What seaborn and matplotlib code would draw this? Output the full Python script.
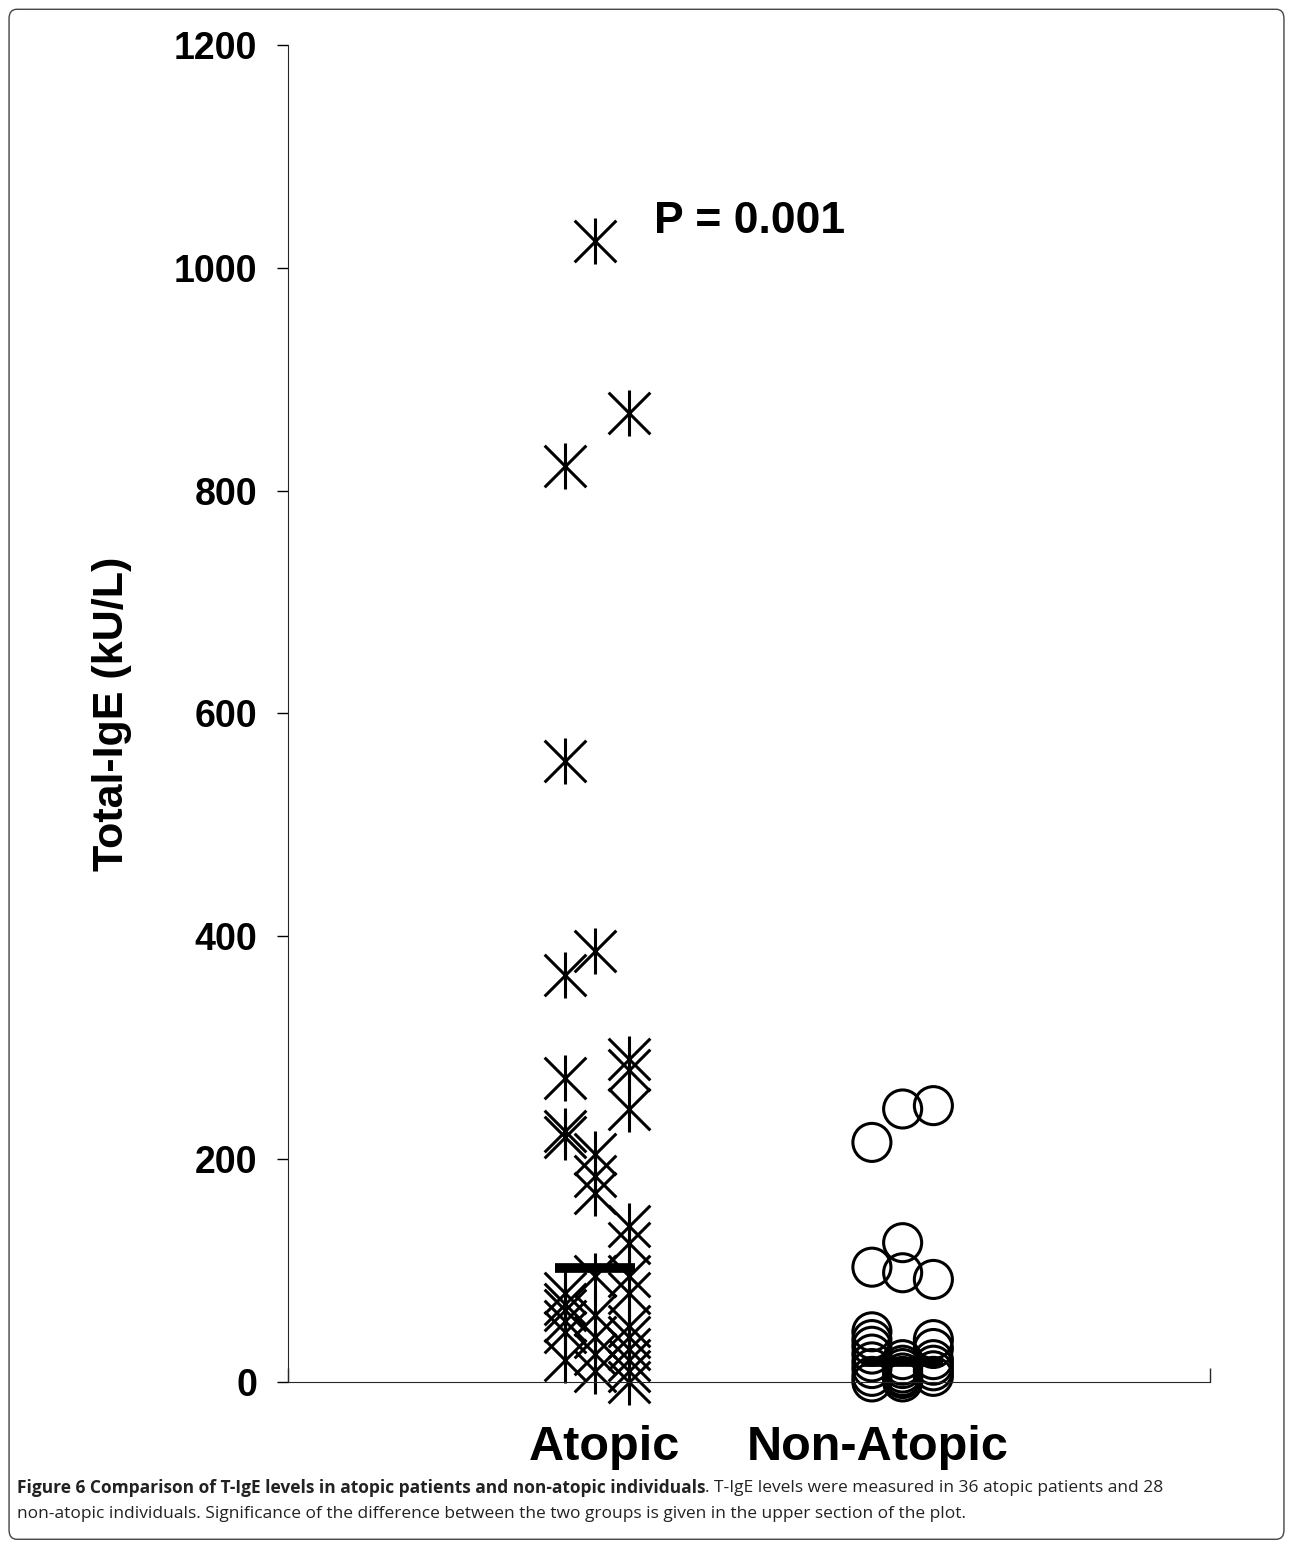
import numpy as np
import pandas as pd
import seaborn as sns
import matplotlib.pyplot as plt
from matplotlib.patches import FancyBboxPatch

# Total-IgE values (kU/L), grouped by jitter column
atopic_col = [-0.1, 0.0, 0.11]
atopic_vals = [
    [822, 557, 365, 273, 225, 220, 80, 70, 65, 55, 45, 20],
    [1024, 387, 205, 185, 170, 95, 60, 40, 25, 10],
    [870, 290, 280, 245, 140, 125, 95, 80, 50, 40, 30, 20, 10, 0],
]
nonatopic_col = [-0.1, 0.0, 0.1]
nonatopic_vals = [
    [215, 103, 45, 38, 32, 25, 18, 12, 5, 0],
    [245, 125, 98, 20, 15, 12, 8, 5, 3, 0],
    [248, 92, 38, 30, 20, 15, 10, 5],
]
groups = ["Atopic", "Non-Atopic"]
medians = [102, 18]

rows = []
for off, vals in zip(atopic_col, atopic_vals):
    for v in vals:
        rows.append(("Atopic", 1 + off, v))
for off, vals in zip(nonatopic_col, nonatopic_vals):
    for v in vals:
        rows.append(("Non-Atopic", 2 + off, v))
df = pd.DataFrame(rows, columns=["group", "x", "ige"])

sns.set_style("ticks")
plt.rcParams["font.family"] = ["Liberation Sans", "DejaVu Sans"]
plt.rcParams["text.color"] = "black"
plt.rcParams["ytick.color"] = "black"
plt.rcParams["axes.labelcolor"] = "black"

fig = plt.figure(figsize=(12.93, 15.47), dpi=100)
ax = fig.add_axes([0.2227, 0.1067, 0.7131, 0.8642])

atop = df[df.group == "Atopic"]
non = df[df.group == "Non-Atopic"]
sns.scatterplot(data=atop, x="x", y="ige", marker="x", s=900, color="black", linewidth=2.2, ax=ax, clip_on=False)
sns.scatterplot(data=atop, x="x", y="ige", marker="|", s=1100, color="black", linewidth=2.2, ax=ax, clip_on=False)
sns.scatterplot(data=non, x="x", y="ige", marker="o", s=750, facecolor="none", edgecolor="black", linewidth=2.2, ax=ax, clip_on=False)

for i, m in enumerate(medians):
    ax.hlines(m, i + 1 - 0.13, i + 1 + 0.13, color="black", linewidth=7, zorder=5)

ax.set_xlim(0, 3)
ax.set_ylim(0, 1200)
ax.set_yticks(range(0, 1201, 200))
ax.set_xticks([0, 3])
ax.set_xticklabels([])
ax.tick_params(axis="x", direction="in", length=10, width=1)
ax.tick_params(axis="y", direction="out", length=8, width=1, labelsize=27, pad=14)
for lab in ax.get_yticklabels():
    lab.set_fontweight("bold")
ax.spines["top"].set_visible(False)
ax.spines["right"].set_visible(False)
ax.spines["bottom"].set_position(("data", 0))
ax.set_xlabel("")
ax.set_ylabel("Total-IgE (kU/L)", fontsize=31, fontweight="bold", labelpad=30)

ax.text(1.03, -59, groups[0], ha="center", va="center", fontsize=35, fontweight="bold")
ax.text(1.92, -59, groups[1], ha="center", va="center", fontsize=35, fontweight="bold")
ax.text(1.19, 1042, "P = 0.001", ha="left", va="center", fontsize=32, fontweight="bold")

fig.patches.append(FancyBboxPatch((0.007, 0.005), 0.986, 0.989, boxstyle="round,pad=0,rounding_size=0.006",
                                  transform=fig.transFigure, facecolor="none", edgecolor="#444444", linewidth=1))

cap_font = ["Open Sans", "DejaVu Sans"]
t1 = fig.text(0.013, 1 - 1488 / 1547, "Figure 6 Comparison of T-IgE levels in atopic patients and non-atopic individuals",
              fontsize=12.5, fontweight="bold", family=cap_font, color="#222222", va="center")
fig.canvas.draw()
bb = t1.get_window_extent()
fig.text(bb.x1 / fig.bbox.width, 1 - 1488 / 1547,
         ". T-IgE levels were measured in 36 atopic patients and 28",
         fontsize=12.5, family=cap_font, color="#222222", va="center")
fig.text(0.013, 1 - 1514 / 1547,
         "non-atopic individuals. Significance of the difference between the two groups is given in the upper section of the plot.",
         fontsize=12.5, family=cap_font, color="#222222", va="center")

fig.savefig("out.png", dpi=100)
